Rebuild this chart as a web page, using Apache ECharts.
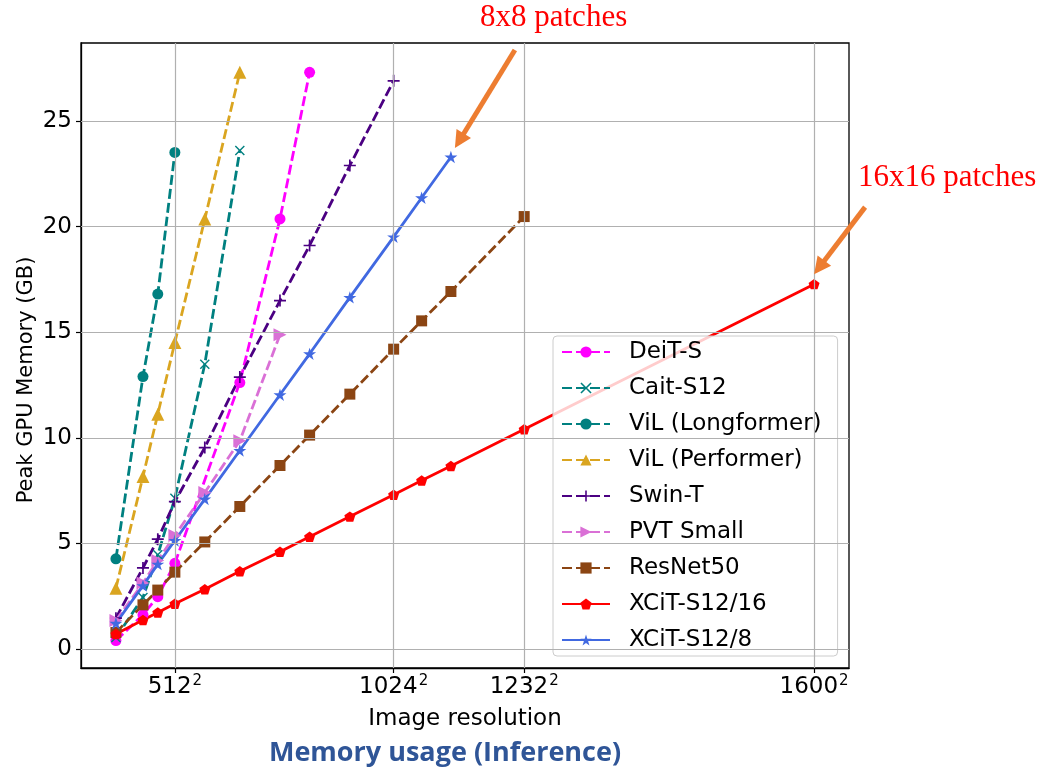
<!DOCTYPE html>
<html>
<head>
<meta charset="utf-8">
<script src="https://cdn.jsdelivr.net/npm/echarts@6/dist/echarts.min.js"></script>
<style>
  html, body { margin: 0; padding: 0; background: #fff; }
  #main { width: 1043px; height: 773px; }
</style>
</head>
<body>
<div id="main"></div>
<script>
// Peak GPU memory (GB) at inference versus input resolution (x = side², i.e. pixel count)
const seriesNames = ['DeiT-S', 'Cait-S12', 'ViL (Longformer)', 'ViL (Performer)', 'Swin-T', 'PVT Small', 'ResNet50', 'XCiT-S12/16', 'XCiT-S12/8'];

const deitRes = [224, 384, 448, 512, 704, 800, 864];
const deitMem = [0.40, 1.62, 2.48, 4.06, 12.62, 20.37, 27.31];

const caitRes = [224, 384, 448, 512, 608, 704];
const caitMem = [0.54, 2.44, 4.46, 7.14, 13.49, 23.61];

const vilLongRes = [224, 384, 448, 512];
const vilLongMem = [4.27, 12.90, 16.81, 23.52];

const vilPerfRes = [224, 384, 448, 512, 608, 704];
const vilPerfMem = [2.88, 8.17, 11.12, 14.52, 20.36, 27.31];

const swinRes = [224, 384, 448, 512, 608, 704, 800, 864, 944, 1024];
const swinMem = [1.46, 3.84, 5.20, 6.98, 9.54, 12.88, 16.50, 19.11, 22.90, 26.91];

const pvtRes = [224, 384, 448, 512, 608, 704, 800];
const pvtMem = [1.35, 3.12, 4.19, 5.38, 7.41, 9.86, 14.88];

const resnetRes = [224, 384, 448, 512, 608, 704, 800, 864, 944, 1024, 1072, 1120, 1232];
const resnetMem = [0.78, 2.09, 2.79, 3.64, 5.07, 6.75, 8.69, 10.13, 12.07, 14.20, 15.54, 16.93, 20.48];

const xcit16Res = [224, 384, 448, 512, 608, 704, 800, 864, 944, 1024, 1072, 1120, 1232, 1600];
const xcit16Mem = [0.71, 1.37, 1.73, 2.14, 2.83, 3.68, 4.61, 5.32, 6.27, 7.31, 7.98, 8.67, 10.41, 17.28];

const xcit8Res = [224, 384, 448, 512, 608, 704, 800, 864, 944, 1024, 1072, 1120];
const xcit8Mem = [1.22, 3.00, 4.02, 5.14, 7.10, 9.40, 12.04, 13.98, 16.65, 19.52, 21.37, 23.30];

// tick labels
const xTickRes = [512, 1024, 1232, 1600];
const yTicks = [0, 5, 10, 15, 20, 25];

const FONT = 'DejaVu Sans';

// marker shapes
const X_PATH = 'path://M1,0 L5,4 L9,0 L10,1 L6,5 L10,9 L9,10 L5,6 L1,10 L0,9 L4,5 L0,1 Z';
const PLUS_PATH = 'path://M4.3,0 H5.7 V4.3 H10 V5.7 H5.7 V10 H4.3 V5.7 H0 V4.3 H4.3 Z';
const PENT_PATH = 'path://M5,0 L9.755,3.455 L7.939,9.045 L2.061,9.045 L0.245,3.455 Z';
const STAR_PATH = 'path://M5,0 L6.123,3.455 L9.755,3.455 L6.817,5.590 L7.939,9.045 L5,6.91 L2.061,9.045 L3.183,5.590 L0.245,3.455 L3.877,3.455 Z';

function line(name, res, mem, color, symbol, size, dashed, rotate) {
  return {
    name: name,
    type: 'line',
    data: res.map((r, i) => [r * r, mem[i]]),
    symbol: symbol,
    symbolSize: size,
    symbolRotate: rotate || 0,
    symbolKeepAspect: true,
    showSymbol: true,
    showAllSymbol: true,
    lineStyle: { color: color, width: 2.8, type: dashed ? [10, 4] : 'solid' },
    itemStyle: { color: color, borderColor: color, borderWidth: 0 },
    emphasis: { disabled: true },
    animation: false,
    z: 3
  };
}

const gridColor = '#b0b0b0';
const gridLines = {
  name: '_grid',
  type: 'line',
  data: [],
  silent: true,
  z: 1,
  animation: false,
  markLine: {
    silent: true,
    symbol: ['none', 'none'],
    label: { show: false },
    animation: false,
    emphasis: { disabled: true },
    lineStyle: { type: 'solid', color: gridColor, width: 1.2 },
    data: xTickRes.map(r => ({ xAxis: r * r })).concat(yTicks.map(v => ({ yAxis: v })))
  }
};

const chart = echarts.init(document.getElementById('main'));

const option = {
  backgroundColor: '#ffffff',
  animation: false,
  grid: {
    left: 81, right: 194, top: 43, bottom: 105,
    show: true, borderColor: '#000', borderWidth: 1.3, backgroundColor: 'transparent'
  },
  legend: {
    data: seriesNames,
    orient: 'vertical',
    left: 553, top: 336,
    padding: [4, 16, 4, 8],
    itemWidth: 48, itemHeight: 14, itemGap: 12,
    backgroundColor: 'rgba(255,255,255,0.8)',
    borderColor: '#cccccc', borderWidth: 1, borderRadius: 4,
    selectedMode: false,
    textStyle: { fontFamily: FONT, fontSize: 23, color: '#000', lineHeight: 24, padding: [0, 0, 0, 14] }
  },
  xAxis: {
    type: 'value',
    min: -75315, max: 2685491,
    axisLine: { show: true, onZero: false, lineStyle: { color: '#000', width: 1.3 } },
    axisTick: { show: true, length: 5, customValues: xTickRes.map(r => r * r), lineStyle: { color: '#000', width: 1.2 } },
    splitLine: { show: false },
    axisLabel: {
      customValues: xTickRes.map(r => r * r),
      margin: 6,
      formatter: v => '{n|' + Math.round(Math.sqrt(v)) + '}{s|2}',
      rich: {
        n: { fontFamily: FONT, fontSize: 23, color: '#000', lineHeight: 26 },
        s: { fontFamily: FONT, fontSize: 15, color: '#000', lineHeight: 26, verticalAlign: 'top', padding: [0, 0, 10, 1] }
      }
    },
    name: 'Image resolution',
    nameLocation: 'middle',
    nameGap: 40,
    nameTextStyle: { fontFamily: FONT, fontSize: 23, color: '#000' }
  },
  yAxis: {
    type: 'value',
    min: -0.9, max: 28.7,
    axisLine: { show: true, onZero: false, lineStyle: { color: '#000', width: 1.3 } },
    axisTick: { show: true, length: 5, customValues: yTicks, lineStyle: { color: '#000', width: 1.2 } },
    splitLine: { show: false },
    axisLabel: {
      customValues: yTicks,
      margin: 9,
      fontFamily: FONT, fontSize: 23, color: '#000'
    }
  },
  series: [
    gridLines,
    line('DeiT-S', deitRes, deitMem, '#ff00ff', 'circle', 11, true),
    line('Cait-S12', caitRes, caitMem, '#008080', X_PATH, 10, true),
    line('ViL (Longformer)', vilLongRes, vilLongMem, '#008080', 'circle', 11, true),
    line('ViL (Performer)', vilPerfRes, vilPerfMem, '#daa520', 'triangle', 13, true),
    line('Swin-T', swinRes, swinMem, '#4b0082', PLUS_PATH, 12, true),
    line('PVT Small', pvtRes, pvtMem, '#da70d6', 'triangle', 13, true, -90),
    line('ResNet50', resnetRes, resnetMem, '#8b4513', 'rect', 11, true),
    line('XCiT-S12/16', xcit16Res, xcit16Mem, '#ff0000', PENT_PATH, 11, false),
    line('XCiT-S12/8', xcit8Res, xcit8Mem, '#4169e1', STAR_PATH, 13, false)
  ]
};

chart.setOption(option);

// Callout arrows pointing at the last point of each XCiT curve
function arrowShapes(x0, y0, x1, y1, color) {
  const dx = x1 - x0, dy = y1 - y0;
  const L = Math.hypot(dx, dy);
  const ux = dx / L, uy = dy / L;
  const headLen = 17, headW = 8.5;
  const bx = x1 - ux * headLen, by = y1 - uy * headLen;
  const px = -uy, py = ux;
  return [
    { type: 'line', silent: true, z: 10,
      shape: { x1: x0, y1: y0, x2: bx + ux * 2, y2: by + uy * 2 },
      style: { stroke: color, lineWidth: 5 } },
    { type: 'polygon', silent: true, z: 10,
      shape: { points: [[x1, y1], [bx + px * headW, by + py * headW], [bx - px * headW, by - py * headW]] },
      style: { fill: color } }
  ];
}

const ARROW = '#ed7d31';
const last8 = xcit8Res.length - 1;
const last16 = xcit16Res.length - 1;
const p8 = chart.convertToPixel({ gridIndex: 0 }, [xcit8Res[last8] * xcit8Res[last8], xcit8Mem[last8]]);
const p16 = chart.convertToPixel({ gridIndex: 0 }, [xcit16Res[last16] * xcit16Res[last16], xcit16Mem[last16]]);

const tip8 = [p8[0] + 4, p8[1] - 9];
const tip16 = [p16[0], p16[1] - 10];

const graphics = []
  .concat(arrowShapes(tip8[0] + 60, tip8[1] - 98, tip8[0], tip8[1], ARROW))
  .concat(arrowShapes(tip16[0] + 51, tip16[1] - 67, tip16[0], tip16[1], ARROW))
  .concat([
    // y-axis title
    { type: 'text', silent: true, z: 10, x: 27, y: 380, rotation: Math.PI / 2,
      style: { text: 'Peak GPU Memory (GB)', fill: '#000', font: '21px "DejaVu Sans"', textAlign: 'center', textVerticalAlign: 'middle' } },
    { type: 'text', silent: true, z: 10, x: 480, y: 18,
      style: { text: '8x8 patches', fill: '#ff0000', font: '31px "Liberation Serif"', textAlign: 'left', textVerticalAlign: 'middle' } },
    { type: 'text', silent: true, z: 10, x: 858, y: 178,
      style: { text: '16x16 patches', fill: '#ff0000', font: '31px "Liberation Serif"', textAlign: 'left', textVerticalAlign: 'middle' } },
    { type: 'text', silent: true, z: 10, x: 445, y: 753,
      style: { text: 'Memory usage (Inference)', fill: '#2f5597', font: 'bold 27px "Open Sans"', textAlign: 'center', textVerticalAlign: 'middle' } }
  ]);

chart.setOption({ graphic: graphics });
</script>
</body>
</html>
